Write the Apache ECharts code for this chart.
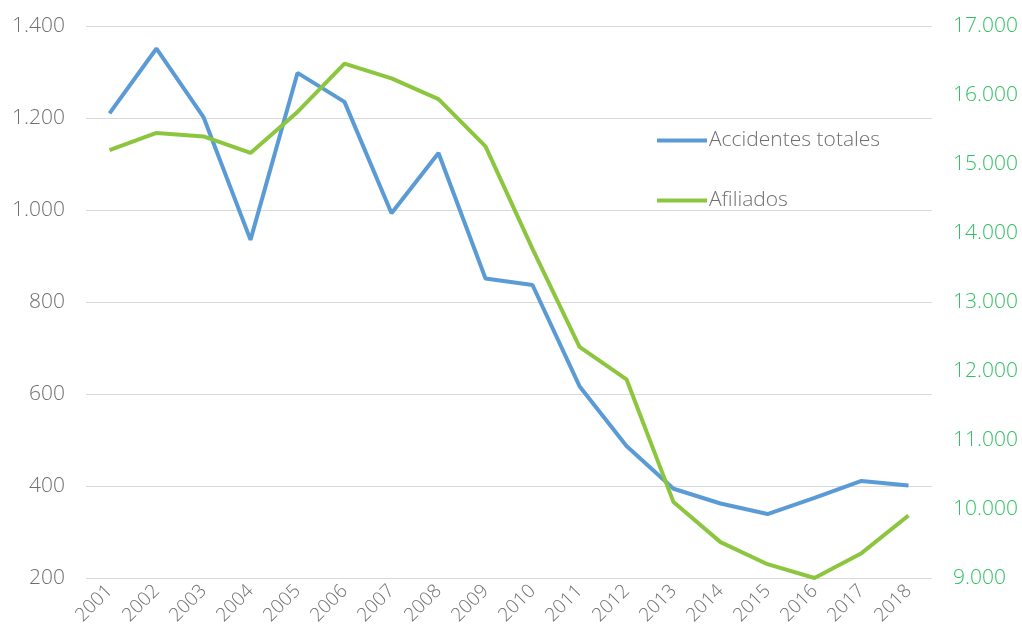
<!DOCTYPE html>
<html>
<head>
<meta charset="utf-8">
<script src="https://cdn.jsdelivr.net/npm/echarts@6/dist/echarts.min.js"></script>
<style>html,body{margin:0;padding:0;background:#fff}#c{width:1022px;height:641px}</style>
</head>
<body>
<div id="c"></div>
<script>
const years = ['2001','2002','2003','2004','2005','2006','2007','2008','2009','2010','2011','2012','2013','2014','2015','2016','2017','2018'];
const accidentes = [1210,1351,1202,935,1298,1235,993,1124,851,837,617,487,394,362,339,374,411,401];
const afiliados = [15200,15450,15400,15160,15755,16455,16240,15940,15255,13770,12350,11880,10100,9520,9200,9000,9360,9905];
const leftTicks = {min:200, max:1400, interval:200};
const rightTicks = {min:9000, max:17000, interval:1000};

const fmt = v => String(v).replace(/\B(?=(\d{3})+(?!\d))/g, '.');
const chart = echarts.init(document.getElementById('c'), null, {renderer:'canvas'});
chart.setOption({
  animation:false,
  backgroundColor:'#ffffff',
  textStyle:{fontFamily:'Open Sans'},
  grid:{left:86, right:90, top:26, bottom:63, containLabel:false},
  legend:{
    orient:'vertical', left:652, top:125, itemGap:39,
    itemWidth:50, itemHeight:4, icon:'rect',
    textStyle:{color:'#6f6f6f', fontSize:21, fontWeight:300, fontFamily:'Open Sans', padding:[0,0,0,-3]},
    data:['Accidentes totales','Afiliados']
  },
  xAxis:{
    type:'category', data:years, boundaryGap:true,
    axisLine:{show:false}, axisTick:{show:false},
    axisLabel:{rotate:45, color:'#6f6f6f', fontSize:19, fontWeight:300, margin:10, interval:0}
  },
  yAxis:[
    {type:'value', min:leftTicks.min, max:leftTicks.max, interval:leftTicks.interval,
     axisLine:{show:false}, axisTick:{show:false},
     axisLabel:{color:'#6f6f6f', fontSize:21, fontWeight:300, margin:21, formatter:fmt},
     splitLine:{lineStyle:{color:'#d9d9d9', width:1}}},
    {type:'value', min:rightTicks.min, max:rightTicks.max, interval:rightTicks.interval, position:'right',
     axisLine:{show:false}, axisTick:{show:false},
     axisLabel:{color:'#33c064', fontSize:21, fontWeight:300, margin:21, formatter:fmt},
     splitLine:{show:false}}
  ],
  series:[
    {name:'Accidentes totales', type:'line', yAxisIndex:0, data:accidentes, showSymbol:false, symbol:'none',
     lineStyle:{color:'#5b9bd5', width:4}, itemStyle:{color:'#5b9bd5'}},
    {name:'Afiliados', type:'line', yAxisIndex:1, data:afiliados, showSymbol:false, symbol:'none',
     lineStyle:{color:'#8cc63f', width:4}, itemStyle:{color:'#8cc63f'}}
  ]
});
</script>
</body>
</html>
